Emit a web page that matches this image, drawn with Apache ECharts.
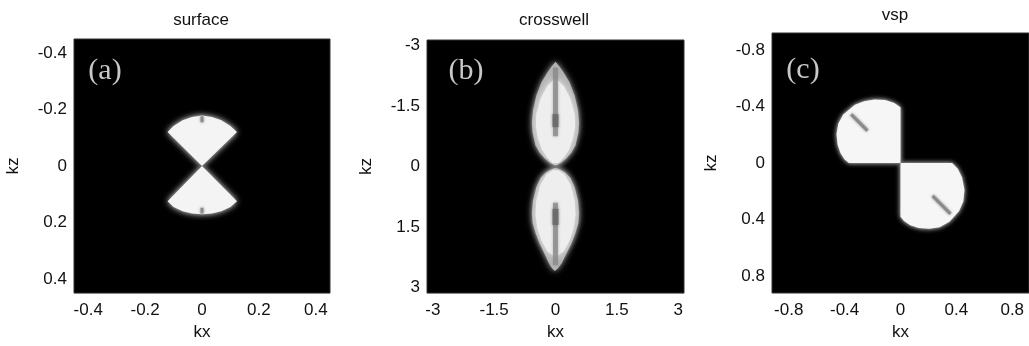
<!DOCTYPE html>
<html>
<head>
<meta charset="utf-8">
<script src="https://cdn.jsdelivr.net/npm/echarts@6/dist/echarts.min.js"></script>
<style>
  html, body { margin: 0; padding: 0; background: #fff; }
  #main { width: 1029px; height: 346px; }
</style>
</head>
<body>
<div id="main"></div>
<script>
// tick labels of the three panels
const surfTicks = [-0.4, -0.2, 0, 0.2, 0.4]
const crossTicks = [-3, -1.5, 0, 1.5, 3]
const vspTicks = [-0.8, -0.4, 0, 0.4, 0.8]

// (a) surface: two wedges, outline points [kx, kz]
const surfUpper = [[0, 0], [-0.121, -0.121], [-0.100, -0.142], [-0.068, -0.162], [-0.035, -0.174], [0, -0.179],
  [0.035, -0.174], [0.068, -0.162], [0.100, -0.142], [0.123, -0.121]]
const surfLower = [[0, 0], [-0.121, 0.125], [-0.100, 0.145], [-0.068, 0.160], [-0.035, 0.168], [0, 0.171],
  [0.035, 0.168], [0.068, 0.160], [0.100, 0.145], [0.123, 0.125]]
const surfStreakUp = [[0, -0.176], [0, -0.155]]
const surfStreakDown = [[0, 0.148], [0, 0.168]]

// (b) crosswell: two lenses (outer fringe, bright core, dark centre stripe)
const crossUpper = [[0, -2.6], [0.1, -2.48], [0.19, -2.35], [0.34, -2.1], [0.47, -1.76], [0.55, -1.40], [0.575, -1.10],
  [0.56, -0.85], [0.49, -0.53], [0.39, -0.35], [0.27, -0.21], [0.14, -0.10], [0.03, -0.03], [-0.03, -0.03],
  [-0.14, -0.10], [-0.27, -0.21], [-0.39, -0.35], [-0.49, -0.53], [-0.56, -0.85], [-0.575, -1.10], [-0.55, -1.40],
  [-0.47, -1.76], [-0.34, -2.1], [-0.19, -2.35], [-0.1, -2.48]]
const crossLower = [[0.03, 0.04], [0.12, 0.08], [0.23, 0.14], [0.36, 0.28], [0.47, 0.52], [0.55, 0.85], [0.575, 1.15],
  [0.56, 1.40], [0.48, 1.67], [0.40, 1.88], [0.31, 2.07], [0.15, 2.40], [0.05, 2.54], [-0.02, 2.59], [-0.09, 2.52],
  [-0.17, 2.38], [-0.31, 2.07], [-0.40, 1.88], [-0.48, 1.67], [-0.56, 1.40], [-0.575, 1.15], [-0.55, 0.85],
  [-0.47, 0.52], [-0.36, 0.28], [-0.23, 0.14], [-0.12, 0.08], [-0.03, 0.04]]
const crossUpperCore = [[0, -2.2], [0.2, -2.0], [0.36, -1.7], [0.47, -1.3], [0.48, -1.0], [0.43, -0.7], [0.33, -0.42],
  [0.2, -0.22], [0.07, -0.09], [-0.07, -0.09], [-0.2, -0.22], [-0.33, -0.42], [-0.43, -0.7], [-0.48, -1.0],
  [-0.47, -1.3], [-0.36, -1.7], [-0.2, -2.0]]
const crossLowerCore = [[0.07, 0.09], [0.22, 0.2], [0.37, 0.45], [0.47, 0.85], [0.49, 1.2], [0.44, 1.55], [0.34, 1.85],
  [0.2, 2.1], [0, 2.25], [-0.2, 2.1], [-0.34, 1.85], [-0.44, 1.55], [-0.49, 1.2], [-0.47, 0.85], [-0.37, 0.45],
  [-0.22, 0.2], [-0.07, 0.09]]
const crossStripeUp = [[0, -2.45], [0, -0.75]]
const crossStripeDown = [[0, 0.9], [0, 2.45]]
const crossSpotUp = [[0, -1.3], [0, -0.98]]
const crossSpotDown = [[0, 1.05], [0, 1.45]]

// (c) vsp: two rounded quadrants
const vspUpper = [[0, 0], [0, -0.395], [-0.045, -0.425], [-0.11, -0.445], [-0.186, -0.45], [-0.26, -0.437], [-0.326, -0.413],
  [-0.41, -0.344], [-0.445, -0.28], [-0.458, -0.206], [-0.45, -0.13], [-0.43, -0.07], [-0.40, -0.025], [-0.37, 0]]
const vspLower = [[0, 0], [0.37, 0], [0.41, 0.04], [0.44, 0.10], [0.458, 0.19], [0.45, 0.27], [0.42, 0.34], [0.35, 0.415],
  [0.28, 0.455], [0.207, 0.466], [0.13, 0.46], [0.07, 0.44], [0.025, 0.41], [0, 0.38]]
const vspStreakUp = [[-0.353, -0.344], [-0.237, -0.229]]
const vspStreakDown = [[0.23, 0.233], [0.358, 0.36]]

const FONT = '"Liberation Sans", Arial, sans-serif'
const SERIF = '30px "Liberation Serif", "Times New Roman", serif'
const txt = { color: '#111', fontFamily: FONT, fontSize: 17 }

function xAx (gi, lim, ticks) {
  return {
    type: 'value', gridIndex: gi, min: -lim, max: lim,
    name: 'kx', nameLocation: 'middle', nameGap: 29, nameTextStyle: txt,
    axisLine: { show: false }, axisTick: { show: false }, splitLine: { show: false },
    axisLabel: Object.assign({ customValues: ticks, margin: 9 }, txt)
  }
}
function yAx (gi, lim, ticks) {
  return {
    type: 'value', gridIndex: gi, min: -lim, max: lim, inverse: true,
    name: 'kz', nameLocation: 'middle', nameGap: 52, nameRotate: 90, nameTextStyle: txt,
    axisLine: { show: false }, axisTick: { show: false }, splitLine: { show: false },
    axisLabel: Object.assign({ customValues: ticks, margin: 7 }, txt)
  }
}
function poly (gi, pts, fill, blur) {
  return {
    type: 'custom', xAxisIndex: gi, yAxisIndex: gi, data: pts, silent: true, z: 2,
    renderItem: (params, api) => params.dataIndex === 0
      ? { type: 'polygon', shape: { points: pts.map(p => api.coord(p)) }, style: { fill: fill, shadowBlur: blur, shadowColor: fill } }
      : null
  }
}
function streak (gi, pts, color, width) {
  return {
    type: 'line', xAxisIndex: gi, yAxisIndex: gi, data: pts, symbol: 'none', silent: true, z: 3,
    lineStyle: { color: color, width: width, shadowBlur: 3, shadowColor: color }
  }
}
function label (x, y, text, font, fill) {
  return { type: 'text', x: x, y: y, z: 10, style: { text: text, font: font, fill: fill, align: 'center', verticalAlign: 'top' } }
}

const chart = echarts.init(document.getElementById('main'), null, { renderer: 'canvas' })
const option = {
  animation: false,
  backgroundColor: '#fff',
  grid: [
    { left: 74, top: 39, width: 256, height: 256, show: true, backgroundColor: '#000', borderColor: '#333', borderWidth: 1 },
    { left: 427, top: 40, width: 257, height: 257, show: true, backgroundColor: '#000', borderColor: '#333', borderWidth: 1 },
    { left: 772, top: 33, width: 257, height: 260, show: true, backgroundColor: '#000', borderColor: '#333', borderWidth: 1 }
  ],
  xAxis: [xAx(0, 0.45, surfTicks), xAx(1, Math.PI, crossTicks), xAx(2, 0.92, vspTicks)],
  yAxis: [yAx(0, 0.45, surfTicks), yAx(1, Math.PI, crossTicks), yAx(2, 0.92, vspTicks)],
  graphic: [
    label(201, 12, 'surface', '17px ' + FONT, '#111'),
    label(554, 12, 'crosswell', '17px ' + FONT, '#111'),
    label(895, 7, 'vsp', '17px ' + FONT, '#111'),
    label(105, 56, '(a)', SERIF, '#c8c8c8'),
    label(466, 56, '(b)', SERIF, '#c8c8c8'),
    label(803, 55, '(c)', SERIF, '#c8c8c8')
  ],
  series: [
    poly(0, surfUpper, '#f4f4f4', 6),
    poly(0, surfLower, '#f4f4f4', 6),
    streak(0, surfStreakUp, '#8c8c8c', 3),
    streak(0, surfStreakDown, '#8c8c8c', 3),
    poly(1, crossUpper, '#b4b4b4', 6),
    poly(1, crossLower, '#b4b4b4', 6),
    poly(1, crossUpperCore, '#eeeeee', 7),
    poly(1, crossLowerCore, '#eeeeee', 7),
    streak(1, crossStripeUp, 'rgba(140,140,140,0.8)', 5),
    streak(1, crossStripeDown, 'rgba(140,140,140,0.8)', 5),
    streak(1, crossSpotUp, 'rgba(105,105,105,0.8)', 6),
    streak(1, crossSpotDown, 'rgba(105,105,105,0.8)', 6),
    poly(2, vspUpper, '#f6f6f6', 5),
    poly(2, vspLower, '#f6f6f6', 5),
    streak(2, vspStreakUp, '#8a8a8a', 3),
    streak(2, vspStreakDown, '#8a8a8a', 3)
  ]
}
chart.setOption(option)
</script>
</body>
</html>
